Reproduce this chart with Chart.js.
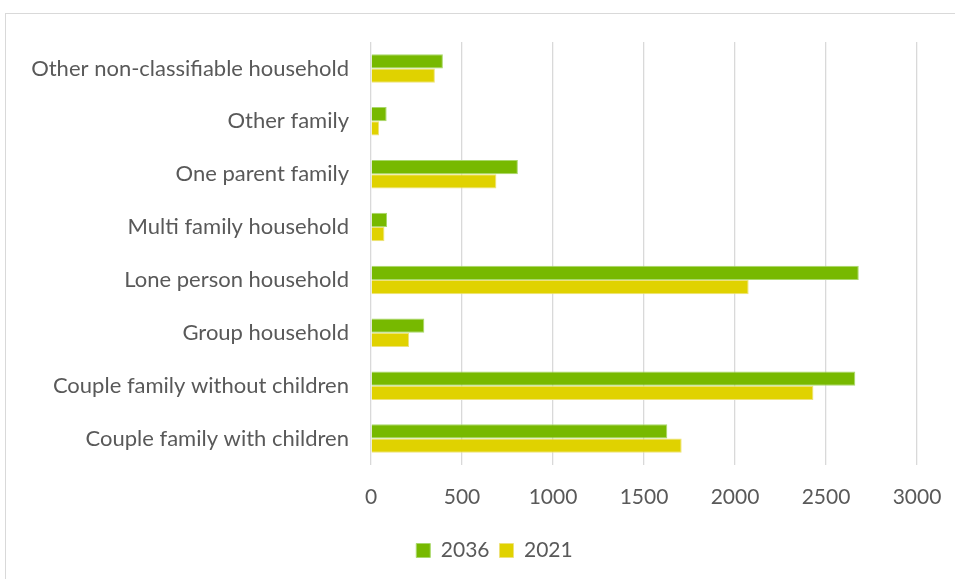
<!DOCTYPE html>
<html>
<head>
<meta charset="utf-8">
<script src="https://cdn.jsdelivr.net/npm/chart.js@4/dist/chart.umd.min.js"></script>
<style>
    html, body { margin: 0; padding: 0; background: #fff; overflow: hidden; width: 955px; height: 579px; }
    #frame {
        position: absolute; left: 5px; top: 13px;
        width: 960px; height: 580px;
        border: 1px solid #d9d9d9;
    }
    #wrap { position: absolute; left: 0; top: 0; width: 955px; height: 579px; }
</style>
</head>
<body>
<div id="frame"></div>
<div id="wrap"><canvas id="hh-chart"></canvas></div>
<script>
var categories = [
    "Other non-classifiable household",
    "Other family",
    "One parent family",
    "Multi family household",
    "Lone person household",
    "Group household",
    "Couple family without children",
    "Couple family with children"
];
var values2036 = [395, 86, 807, 88, 2680, 293, 2661, 1628];
var values2021 = [351, 44, 689, 74, 2075, 209, 2431, 1707];
var xTicks = [0, 500, 1000, 1500, 2000, 2500, 3000];

var textColor = "#595959";
var gridColor = "#d9d9d9";
var fontFamily = "Lato, 'Open Sans', sans-serif";

// legend in the reference sits a bit right of the canvas centre
var legendShift = {
    id: 'legendShift',
    afterLayout: function (chart) {
        chart.legend.left += 36;
        chart.legend.right += 36;
    }
};

var ctx = document.getElementById("hh-chart").getContext('2d');
var chart = new Chart(ctx, {
    type: 'bar',
    data: {
        labels: categories,
        datasets: [
            {
                label: "2036",
                data: values2036,
                backgroundColor: "#77b900",
                borderColor: "#a9d86a",
                borderWidth: 1,
                categoryPercentage: 0.54,
                barPercentage: 1.0
            },
            {
                label: "2021",
                data: values2021,
                backgroundColor: "#e0d200",
                borderColor: "#eee27a",
                borderWidth: 1,
                categoryPercentage: 0.54,
                barPercentage: 1.0
            }
        ]
    },
    options: {
        indexAxis: 'y',
        responsive: true,
        maintainAspectRatio: false,
        animation: false,
        layout: { padding: { left: 0, right: 38, top: 42, bottom: 8 } },
        scales: {
            x: {
                min: 0,
                max: 3000,
                afterBuildTicks: function (scale) {
                    scale.ticks = xTicks.map(function (v) { return { value: v }; });
                },
                afterFit: function (scale) {
                    scale.height = 65;
                    scale.paddingRight = 0;
                    scale.paddingLeft = 0;
                },
                grid: { color: gridColor, lineWidth: 1.3, drawTicks: false },
                border: { display: false },
                ticks: {
                    color: textColor,
                    padding: 20,
                    font: { family: fontFamily, size: 21 },
                    callback: function (value) { return String(value); }
                }
            },
            y: {
                afterFit: function (scale) { scale.width = 371; },
                grid: { display: false, drawTicks: false },
                border: { display: false },
                ticks: {
                    color: textColor,
                    padding: 22,
                    font: { family: fontFamily, size: 22 }
                }
            }
        },
        plugins: {
            legend: {
                position: 'bottom',
                labels: {
                    color: textColor,
                    boxWidth: 14,
                    boxHeight: 14,
                    padding: 10,
                    font: { family: fontFamily, size: 21 }
                }
            },
            tooltip: { enabled: false }
        }
    },
    plugins: [legendShift]
});
</script>
</body>
</html>
